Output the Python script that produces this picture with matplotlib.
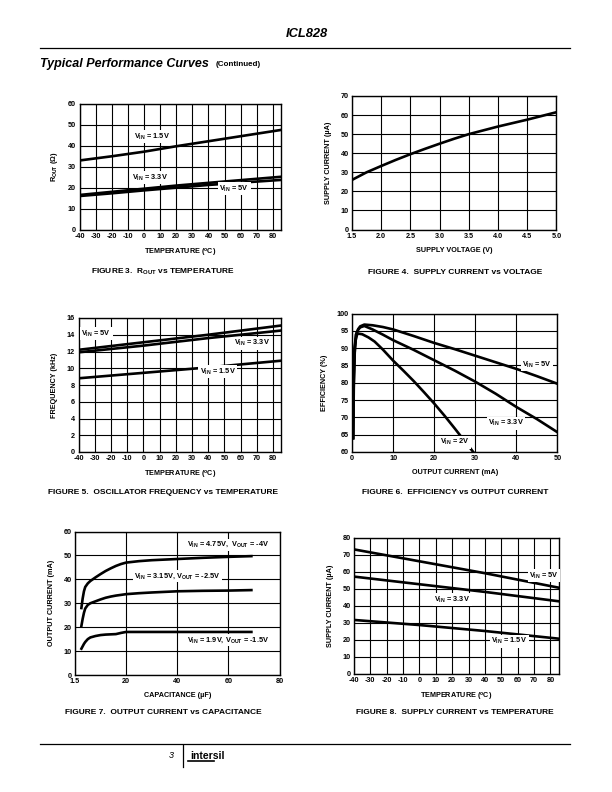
import matplotlib
matplotlib.use("Agg")
import matplotlib.pyplot as plt
import numpy as np

plt.rcParams['font.family'] = ['Liberation Sans', 'DejaVu Sans']
plt.rcParams['font.weight'] = 'bold'
plt.rcParams['axes.unicode_minus'] = False
plt.rcParams['mathtext.fontset'] = 'custom'
plt.rcParams['mathtext.rm'] = 'Liberation Sans:bold'
plt.rcParams['mathtext.bf'] = 'Liberation Sans:bold'
plt.rcParams['mathtext.it'] = 'Liberation Sans:bold:italic'
plt.rcParams['mathtext.default'] = 'rm'

# ---------------- data ----------------
# Figure 3: ROUT vs temperature
f3_temp = [-40, -20, 0, 20, 40, 60, 85]
f3_r_15 = [33.0, 35.0, 37.2, 39.8, 42.2, 44.6, 47.6]
f3_r_33 = [16.5, 18.0, 19.5, 21.0, 22.3, 23.6, 25.2]
f3_r_5 = [16.0, 17.3, 18.7, 20.0, 21.3, 22.4, 23.7]

# Figure 4: supply current vs voltage
f4_volt = [1.5, 1.75, 2.0, 2.25, 2.5, 2.75, 3.0, 3.25, 3.5, 4.0, 4.5, 5.0]
f4_curr = [26.0, 30.0, 33.3, 36.5, 39.5, 42.3, 45.0, 47.6, 50.0, 54.0, 57.6, 61.5]

# Figure 5: oscillator frequency vs temperature
f5_temp = [-40, 0, 40, 85]
f5_f_5 = [12.2, 13.1, 14.0, 15.1]
f5_f_33 = [11.9, 12.7, 13.6, 14.5]
f5_f_15 = [8.8, 9.45, 10.1, 10.9]

# Figure 6: efficiency vs output current
f6_i_5 = [0.3, 0.45, 0.7, 1.0, 1.5, 2.0, 3.0, 5, 7.5, 10, 15, 20, 25, 30, 35, 40, 45, 50]
f6_e_5 = [64, 80, 90, 94.0, 95.5, 96.3, 96.8, 96.6, 96.1, 95.4, 93.5, 91.5, 89.7, 87.8, 85.9, 84.0, 81.9, 79.7]
f6_i_33 = [0.2, 0.35, 0.6, 1.0, 1.5, 2.0, 3.0, 5, 7.5, 10, 15, 20, 25, 30, 35, 40, 45, 50]
f6_e_33 = [64, 80, 90, 94.0, 95.3, 96.0, 96.4, 95.4, 93.9, 92.3, 89.5, 86.5, 83.5, 80.3, 76.8, 73.0, 69.5, 65.7]
f6_i_2 = [0.3, 0.4, 0.6, 0.9, 1.2, 1.5, 2.5, 4, 5.5, 7.5, 10, 12.5, 15, 17.5, 20, 22.5, 25, 27.5, 29.5]
f6_e_2 = [64, 78, 88, 92.3, 93.8, 94.2, 94.0, 93.1, 91.9, 89.6, 86.4, 83.5, 80.5, 77.3, 74.0, 70.5, 66.8, 63.0, 60.0]

# Figure 7: output current vs capacitance
f7_cap = [2.5, 3, 3.5, 4, 5, 6, 8, 10, 12, 14, 16, 18, 20, 25, 30, 40, 50, 60, 69]
f7_i_475 = [28, 32, 35, 36.8, 38.3, 39.3, 40.8, 42.2, 43.5, 44.6, 45.6, 46.4, 47.0,
            47.6, 48.0, 48.5, 49.0, 49.4, 49.7]
f7_i_315 = [20.5, 23.5, 26, 27.8, 29.3, 30.0, 30.8, 31.6, 32.3, 32.8, 33.2, 33.5, 33.8,
            34.2, 34.5, 35.0, 35.2, 35.3, 35.5]
f7_i_19 = [11, 12, 13, 13.8, 15.0, 15.7, 16.3, 16.7, 16.9, 17.0, 17.1, 17.6, 18.0,
           18.0, 18.0, 18.0, 18.0, 18.0, 18.0]
f7_ticks = [0, 20, 40, 60, 80]
f7_ticklabels = ['1.5', '20', '40', '60', '80']

# Figure 8: supply current vs temperature
f8_temp = [-40, 0, 40, 85]
f8_i_5 = [73.0, 66.0, 59.0, 50.5]
f8_i_33 = [57.0, 52.5, 48.0, 42.5]
f8_i_15 = [31.5, 28.5, 25.0, 20.5]

temp_ticks = [-40, -30, -20, -10, 0, 10, 20, 30, 40, 50, 60, 70, 80]

# ---------------- figure ----------------
W, H = 612, 792
fig = plt.figure(figsize=(W / 100, H / 100), dpi=100)

TICK_FS = 5.2
LAB_FS = 5.2
ANN_FS = 5.3
LW = 1.9


def make_ax(l, r, t, b):
    ax = fig.add_axes([l / W, 1 - b / H, (r - l) / W, (b - t) / H])
    for s in ax.spines.values():
        s.set_linewidth(1.0)
    ax.tick_params(length=0, pad=2.5, labelsize=TICK_FS)
    ax.grid(True, color='black', linewidth=0.8)
    ax.set_axisbelow(True)
    return ax


def style_ticks(ax):
    for lab in ax.get_xticklabels() + ax.get_yticklabels():
        lab.set_fontweight('bold')
        lab.set_fontsize(TICK_FS)


def ann(ax, x, y, s, ha='center'):
    ax.text(x, y, s, fontsize=ANN_FS, fontweight='bold', ha=ha, va='center',
            bbox=dict(facecolor='white', edgecolor='none', pad=1.0), zorder=5)


# Figure 3
ax = make_ax(79.5, 281, 104, 229.5)
ax.plot(f3_temp, f3_r_15, color='black', lw=LW)
ax.plot(f3_temp, f3_r_33, color='black', lw=LW)
ax.plot(f3_temp, f3_r_5, color='black', lw=LW)
ax.set_xlim(-40, 85)
ax.set_ylim(0, 60)
ax.set_xticks(temp_ticks)
ax.set_yticks(range(0, 61, 10))
style_ticks(ax)
ax.set_xlabel(r'TEMPERATURE ($^{\mathrm{o}}$C)', fontsize=LAB_FS, fontweight='bold', labelpad=5)
ax.set_ylabel(r'R$_{\mathrm{OUT}}$ ($\Omega$)', fontsize=LAB_FS, fontweight='bold', labelpad=6)
ann(ax, 5, 44.5, r'V$_{\mathrm{IN}}$ = 1.5V')
ann(ax, 4, 24.8, r'V$_{\mathrm{IN}}$ = 3.3V')
ann(ax, 56, 19.5, r'V$_{\mathrm{IN}}$ = 5V')

# Figure 4
ax = make_ax(352, 556.5, 96, 229.5)
ax.plot(f4_volt, f4_curr, color='black', lw=LW)
ax.set_xlim(1.5, 5.0)
ax.set_ylim(0, 70)
ax.set_xticks([1.5, 2.0, 2.5, 3.0, 3.5, 4.0, 4.5, 5.0])
ax.set_xticklabels(['1.5', '2.0', '2.5', '3.0', '3.5', '4.0', '4.5', '5.0'])
ax.set_yticks(range(0, 71, 10))
style_ticks(ax)
ax.set_xlabel('SUPPLY VOLTAGE (V)', fontsize=LAB_FS, fontweight='bold', labelpad=5)
ax.set_ylabel(u'SUPPLY CURRENT (\u00b5A)', fontsize=LAB_FS, fontweight='bold', labelpad=6)

# Figure 5
ax = make_ax(78.5, 281, 318, 452)
ax.plot(f5_temp, f5_f_5, color='black', lw=LW)
ax.plot(f5_temp, f5_f_33, color='black', lw=LW)
ax.plot(f5_temp, f5_f_15, color='black', lw=LW)
ax.set_xlim(-40, 85)
ax.set_ylim(0, 16)
ax.set_xticks(temp_ticks)
ax.set_yticks(range(0, 17, 2))
style_ticks(ax)
ax.set_xlabel(r'TEMPERATURE ($^{\mathrm{o}}$C)', fontsize=LAB_FS, fontweight='bold', labelpad=5)
ax.set_ylabel('FREQUENCY (kHz)', fontsize=LAB_FS, fontweight='bold', labelpad=6)
ann(ax, -29, 14.1, r'V$_{\mathrm{IN}}$ = 5V')
ann(ax, 67, 13.0, r'V$_{\mathrm{IN}}$ = 3.3V')
ann(ax, 46, 9.6, r'V$_{\mathrm{IN}}$ = 1.5V')

# Figure 6
ax = make_ax(352, 557.5, 313.5, 452)
ax.plot(f6_i_5, f6_e_5, color='black', lw=LW)
ax.plot(f6_i_33, f6_e_33, color='black', lw=LW)
ax.plot(f6_i_2, f6_e_2, color='black', lw=LW)
ax.set_xlim(0, 50)
ax.set_ylim(60, 100)
ax.set_xticks(range(0, 51, 10))
ax.set_yticks(range(60, 101, 5))
style_ticks(ax)
ax.set_xlabel('OUTPUT CURRENT (mA)', fontsize=LAB_FS, fontweight='bold', labelpad=5)
ax.set_ylabel('EFFICIENCY (%)', fontsize=LAB_FS, fontweight='bold', labelpad=6)
ann(ax, 45, 85.2, r'V$_{\mathrm{IN}}$ = 5V')
ann(ax, 37.5, 68.3, r'V$_{\mathrm{IN}}$ = 3.3V')
ann(ax, 25.0, 62.8, r'V$_{\mathrm{IN}}$ = 2V')

# Figure 7
ax = make_ax(75, 279.5, 531.5, 675)
ax.plot(f7_cap, f7_i_475, color='black', lw=LW)
ax.plot(f7_cap, f7_i_315, color='black', lw=LW)
ax.plot(f7_cap, f7_i_19, color='black', lw=LW)
ax.set_xlim(0, 80)
ax.set_ylim(0, 60)
ax.set_xticks(f7_ticks)
ax.set_xticklabels(f7_ticklabels)
ax.set_yticks(range(0, 61, 10))
style_ticks(ax)
ax.set_xlabel(u'CAPACITANCE (\u00b5F)', fontsize=LAB_FS, fontweight='bold', labelpad=5)
ax.set_ylabel('OUTPUT CURRENT (mA)', fontsize=LAB_FS, fontweight='bold', labelpad=6)
ann(ax, 60, 54.5, r'V$_{\mathrm{IN}}$ = 4.75V,  V$_{\mathrm{OUT}}$ = -4V')
ann(ax, 40, 41.3, r'V$_{\mathrm{IN}}$ = 3.15V, V$_{\mathrm{OUT}}$ = -2.5V')
ann(ax, 60, 14.5, r'V$_{\mathrm{IN}}$ = 1.9V, V$_{\mathrm{OUT}}$ = -1.5V')

# Figure 8
ax = make_ax(354, 558.5, 537.5, 673.5)
ax.plot(f8_temp, f8_i_5, color='black', lw=LW)
ax.plot(f8_temp, f8_i_33, color='black', lw=LW)
ax.plot(f8_temp, f8_i_15, color='black', lw=LW)
ax.set_xlim(-40, 85)
ax.set_ylim(0, 80)
ax.set_xticks(temp_ticks)
ax.set_yticks(range(0, 81, 10))
style_ticks(ax)
ax.set_xlabel(r'TEMPERATURE ($^{\mathrm{o}}$C)', fontsize=LAB_FS, fontweight='bold', labelpad=5)
ax.set_ylabel(u'SUPPLY CURRENT (\u00b5A)', fontsize=LAB_FS, fontweight='bold', labelpad=6)
ann(ax, 76, 57.5, r'V$_{\mathrm{IN}}$ = 5V')
ann(ax, 20, 43.5, r'V$_{\mathrm{IN}}$ = 3.3V')
ann(ax, 55, 19.0, r'V$_{\mathrm{IN}}$ = 1.5V')

# ---------------- page text ----------------
def ftext(x, y, s, **kw):
    fig.text(x / W, 1 - y / H, s, **kw)

ftext(328, 34, 'ICL828', fontsize=9.3, fontweight='bold', style='italic', ha='right', va='center')
fig.add_artist(plt.Line2D([40 / W, 570 / W], [1 - 48 / H, 1 - 48 / H], color='black', lw=0.9))
ftext(40, 64, 'Typical Performance Curves', fontsize=9.0, fontweight='bold', style='italic', ha='left', va='center')
ftext(216, 64.5, '(Continued)', fontsize=5.8, fontweight='bold', ha='left', va='center')

CAP_FS = 6.0
ftext(163, 272, r'FIGURE 3.  R$_{\mathrm{OUT}}$ vs TEMPERATURE', fontsize=CAP_FS, fontweight='bold', ha='center', va='center')
ftext(455, 272, 'FIGURE 4.  SUPPLY CURRENT vs VOLTAGE', fontsize=CAP_FS, fontweight='bold', ha='center', va='center')
ftext(163, 492, 'FIGURE 5.  OSCILLATOR FREQUENCY vs TEMPERATURE', fontsize=CAP_FS, fontweight='bold', ha='center', va='center')
ftext(455, 492, 'FIGURE 6.  EFFICIENCY vs OUTPUT CURRENT', fontsize=CAP_FS, fontweight='bold', ha='center', va='center')
ftext(163, 712, 'FIGURE 7.  OUTPUT CURRENT vs CAPACITANCE', fontsize=CAP_FS, fontweight='bold', ha='center', va='center')
ftext(455, 712, 'FIGURE 8.  SUPPLY CURRENT vs TEMPERATURE', fontsize=CAP_FS, fontweight='bold', ha='center', va='center')

fig.add_artist(plt.Line2D([40 / W, 570 / W], [1 - 744 / H, 1 - 744 / H], color='black', lw=0.9))
fig.add_artist(plt.Line2D([183 / W, 183 / W], [1 - 745 / H, 1 - 767 / H], color='black', lw=0.9))
ftext(174, 756, '3', fontsize=6.5, style='italic', fontweight='normal', ha='right', va='center')
ftext(190, 756, 'intersil', fontsize=7.5, fontweight='bold', ha='left', va='center')
fig.add_artist(plt.Line2D([188 / W, 214 / W], [1 - 761 / H, 1 - 761 / H], color='black', lw=1.2))

fig.savefig('out.png', dpi=100)
